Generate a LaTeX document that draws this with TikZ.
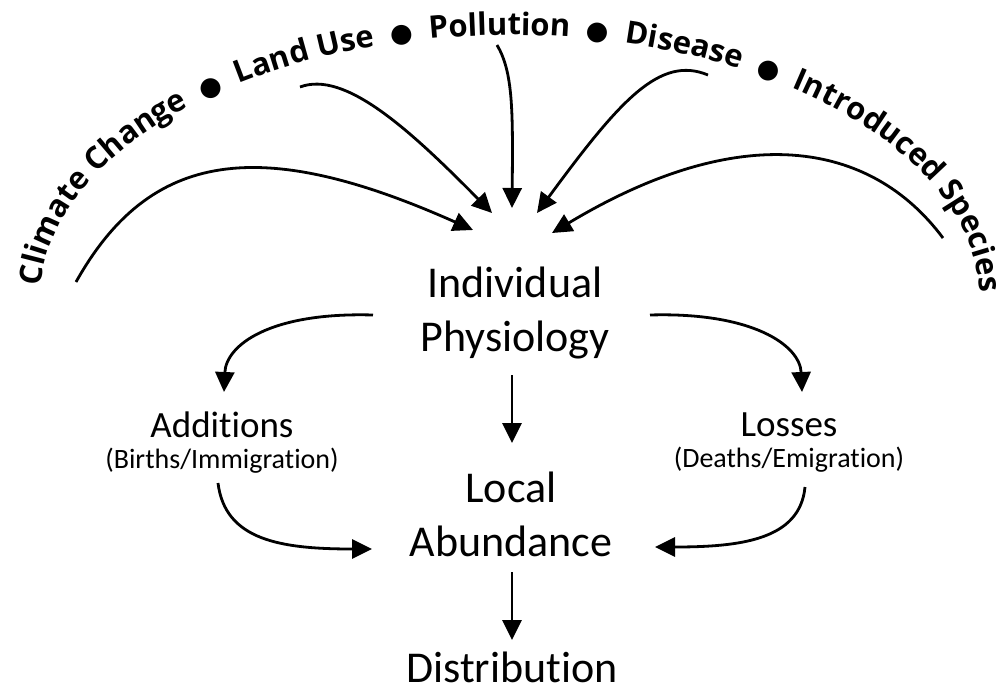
\documentclass[tikz,border=0pt]{standalone}
\usepackage{fontspec}
\setmainfont{Carlito}[Ligatures=NoCommon]
\newfontfamily\arcfamily{Open Sans}
\newfontfamily\bulfamily{DejaVu Sans}
\newcommand\arcF{\arcfamily\bfseries\fontsize{31}{31}\selectfont}
\newcommand\wideS{\arcfamily\bfseries\fontsize{62}{62}\selectfont}
\newcommand\bulF{\bulfamily\fontsize{26}{26}\selectfont}
\usetikzlibrary{arrows.meta,decorations.text}
\begin{document}
\begin{tikzpicture}[x=1pt,y=-1pt,
  conn/.style={-{Triangle[length=20pt,width=19pt]}, line width=2.8pt},
  big/.style={font=\fontsize{44}{54}\selectfont, align=center, inner sep=0pt},
  mid/.style={font=\fontsize{37}{45}\selectfont, align=center, inner sep=0pt}]
\useasboundingbox (0,0) rectangle (1002,694);

% main nodes
\node[big] (phys) at (515,313) {Individual\\Physiology};
\node[big] (local) at (511,514) {Local\\Abundance};
\node[big] (dist) at (512,667) {Distribution};
\node[mid] (add) at (222,442.5) {Additions\\[-14pt]{\fontsize{28}{34}\selectfont(Births/Immigration)}};
\node[mid] (loss) at (789,442.5) {Losses\\[-14pt]{\fontsize{28}{34}\selectfont(Deaths/Emigration)}};

% arc of stressors
\path[decorate, decoration={text along path, text align=fit to path stretching spaces,
  text={|\arcF|Climate Change|\wideS| |\bulF|●|\wideS| |\arcF|Land Use|\wideS| |\bulF|●|\wideS| |\arcF|Pollution|\wideS| |\bulF|●|\wideS| |\arcF|Disease|\wideS| |\bulF|●|\wideS| |\arcF|Introduced Species}}]
  (510,300) ++(183:470 and 265) arc[start angle=183, end angle=357, x radius=470, y radius=265];

% free ends of the stressor arrows
\coordinate (sClim) at (76,282);
\coordinate (sLand) at (300,87);
\coordinate (sPoll) at (497,45);
\coordinate (sDis) at (708,75);
\coordinate (sIntro) at (943,238);

\draw[conn] (sClim) .. controls (150,150) and (260,135) .. ([shift={(-42,-83)}]phys.center);
\draw[conn] (sLand) .. controls (345,70) and (410,130) .. ([shift={(-23,-100)}]phys.center);
\draw[conn] (sPoll) .. controls (513,72) and (513,110) .. ([shift={(-3,-105)}]phys.center);
\draw[conn] (sDis) .. controls (660,55) and (620,100) .. ([shift={(22,-100)}]phys.center);
\draw[conn] (sIntro) .. controls (870,140) and (740,120) .. ([shift={(37,-80)}]phys.center);

% flow arrows
\draw[conn] ([shift={(-142,2)}]phys.center) .. controls (270,312) and (226,345) .. ([shift={(2,-50.5)}]add.center);
\draw[conn] ([shift={(135,2)}]phys.center) .. controls (752,312) and (800,345) .. ([shift={(13,-50.5)}]loss.center);
\draw[conn] ([shift={(-3,62)}]phys.center) -- ([shift={(1,-71)}]local.center);
\draw[conn] ([shift={(-4,40.5)}]add.center) .. controls (225,540) and (280,549) .. ([shift={(-139,35)}]local.center);
\draw[conn] ([shift={(16,44.5)}]loss.center) .. controls (800,540) and (740,547) .. ([shift={(144,33)}]local.center);
\draw[conn] ([shift={(1,58)}]local.center) -- ([shift={(0,-27)}]dist.center);
\end{tikzpicture}
\end{document}
